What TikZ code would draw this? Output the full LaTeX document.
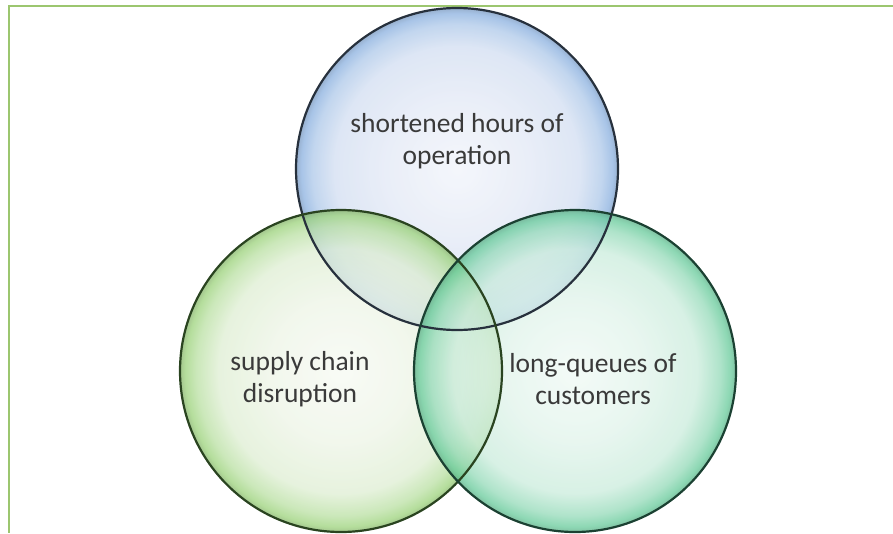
\documentclass[tikz,border=0pt]{standalone}
\usepackage{fontspec}
\setmainfont{Carlito}
\definecolor{frame}{HTML}{9CC66F}
\definecolor{txt}{HTML}{3A3A3A}
\definecolor{bedge}{HTML}{8AB0DF}
\definecolor{bmid}{HTML}{E2E8F5}
\definecolor{bline}{HTML}{27313D}
\definecolor{gedge}{HTML}{9BD27A}
\definecolor{gmid}{HTML}{EDF4E6}
\definecolor{gline}{HTML}{2A4420}
\definecolor{tedge}{HTML}{66CA9A}
\definecolor{tmid}{HTML}{E0F3EA}
\definecolor{tline}{HTML}{1B4132}
\pgfdeclareradialshading{blueb}{\pgfpoint{0bp}{0bp}}{color(0bp)=(bmid!50!white); color(11bp)=(bmid); color(19bp)=(bmid!82!bedge); color(22.5bp)=(bedge!70!white); color(24.2bp)=(bedge); color(25bp)=(bedge!85!black); color(50bp)=(bedge)}
\pgfdeclareradialshading{greenb}{\pgfpoint{0bp}{0bp}}{color(0bp)=(gmid!50!white); color(11bp)=(gmid); color(19bp)=(gmid!82!gedge); color(22.5bp)=(gedge!70!white); color(24.2bp)=(gedge); color(25bp)=(gedge!85!black); color(50bp)=(gedge)}
\pgfdeclareradialshading{tealb}{\pgfpoint{0bp}{0bp}}{color(0bp)=(tmid!50!white); color(11bp)=(tmid); color(19bp)=(tmid!82!tedge); color(22.5bp)=(tedge!70!white); color(24.2bp)=(tedge); color(25bp)=(tedge!85!black); color(50bp)=(tedge)}
\tikzset{
  bubble/.style={circle, minimum size=322pt, inner sep=0pt, fill opacity=0.75},
  ring/.style={circle, minimum size=322pt, inner sep=0pt, line width=2.2pt},
  label/.style={align=center, text=txt, font=\fontsize{27.5}{32}\selectfont},
  frameline/.style={draw=frame, line width=2pt}
}
\begin{document}
\begin{tikzpicture}[x=1pt, y=-1pt]
\useasboundingbox (0,0) rectangle (893,533);
\coordinate (f1) at (893,6);
\coordinate (f2) at (9,6);
\coordinate (f3) at (9,533);
\draw[frameline] (f1) -- (f2) -- (f3);
\node[bubble, shading=blueb] (topc) at (457,169) {};
\node[bubble, shading=greenb] (leftc) at (341,371) {};
\node[bubble, shading=tealb] (rightc) at (575,371) {};
\node[ring, draw=bline] (topr) at (topc) {};
\node[ring, draw=gline] (leftr) at (leftc) {};
\node[ring, draw=tline] (rightr) at (rightc) {};
\node[label] (tl) at (457,141) {shortened hours of\\operation};
\node[label] (ll) at (300,379) {supply chain\\disruption};
\node[label] (rl) at (593,379) {long-queues of\\customers};
\end{tikzpicture}
\end{document}
